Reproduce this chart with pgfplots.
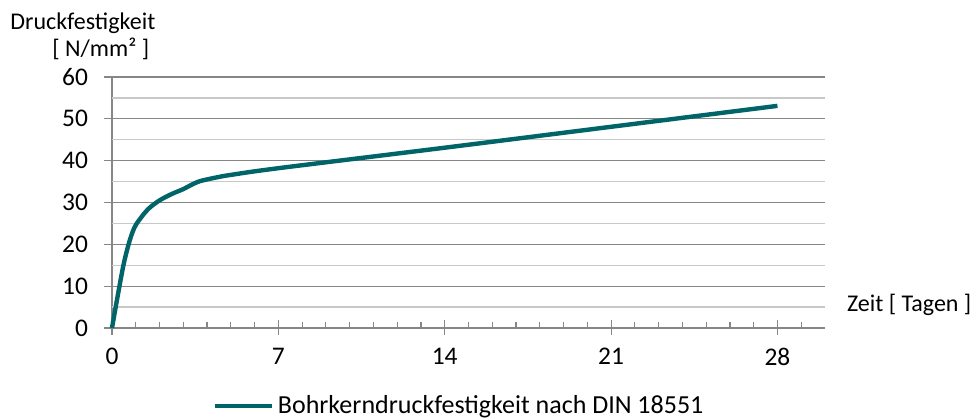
\documentclass[border=0pt]{standalone}
\usepackage{fontspec}
\setmainfont{Carlito}
\usepackage{pgfplots}
\pgfplotsset{compat=1.18}
\definecolor{teal1}{RGB}{0,100,104}
\definecolor{axgray}{RGB}{134,134,134}
\definecolor{mingray}{RGB}{200,200,200}
\begin{document}
\begin{tikzpicture}
\useasboundingbox (-56bp,-45.5bp) rectangle (431bp,164bp);
\begin{axis}[
  scale only axis,
  width=356.5bp, height=125.5bp,
  xmin=0, xmax=30, ymin=0, ymax=60,
  axis lines*=left,
  axis line style={axgray, line width=0.6bp},
  xtick={0,7,14,21,28},
  minor xtick={1,2,3,4,5,6,8,9,10,11,12,13,15,16,17,18,19,20,22,23,24,25,26,27,29},
  ytick={0,10,20,30,40,50,60},
  xtick align=inside,
  ytick align=outside,
  major tick length=4bp,
  minor tick length=3bp,
  tick style={axgray, line width=0.6bp},
  extra x ticks={0,7,14,21,28},
  extra x tick labels={},
  extra x tick style={tick align=outside, major tick length=3.5bp},
  extra y ticks={5,15,25,35,45,55},
  extra y tick labels={},
  extra y tick style={grid=major, major tick length=0pt, major grid style={mingray, line width=0.6bp}},
  ymajorgrids,
  major grid style={axgray, line width=0.6bp},
  /pgf/number format/assume math mode=true,
  ticklabel style={font=\fontsize{12.7bp}{15bp}\selectfont},
  xticklabel style={yshift=-6.5bp},
  yticklabel style={xshift=-4.5bp},
  legend style={draw=none, fill=none, at={(0.488,-0.311)}, anchor=center,
    font=\fontsize{13bp}{15bp}\selectfont, inner sep=0pt},
  legend cell align=left,
  legend image code/.code={\draw[#1, line width=2.2bp] (0bp,0bp) -- (28.5bp,0bp);},
  clip=false,
]
\addplot[teal1, line width=2.2bp, smooth, tension=0.5] coordinates {
  (0,0) (0.25,8) (0.5,15.5) (0.75,21) (1,24.6) (1.5,28.3) (2,30.5)
  (2.5,32) (3,33.2) (3.3,34.1) (3.7,35.1) (4.4,36) (5,36.6) (7,38.2)
  (14,43.1) (21,48.1) (28,53.1)
};
\addlegendentry{Bohrkerndruckfestigkeit nach DIN 18551}
\end{axis}
\node[anchor=base west, inner sep=0pt, font=\fontsize{12bp}{14bp}\selectfont] at (-51bp,149.3bp) {Druckfestigkeit};
\node[anchor=base west, inner sep=0pt, font=\fontsize{12bp}{14bp}\selectfont] at (-30bp,135.7bp) {[ N/mm² ]};
\node[anchor=base west, inner sep=0pt, font=\fontsize{12bp}{14bp}\selectfont] at (367.3bp,8.5bp) {Zeit [ Tagen ]};
\end{tikzpicture}
\end{document}
